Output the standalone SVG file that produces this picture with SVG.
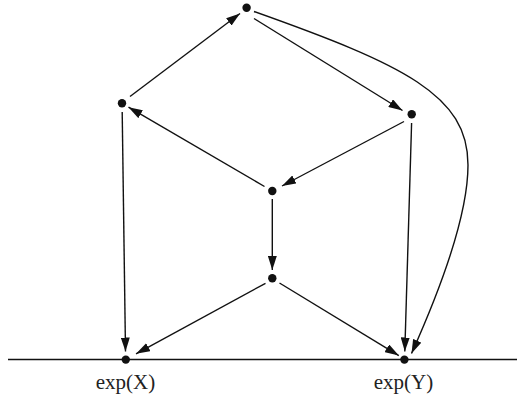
<svg xmlns="http://www.w3.org/2000/svg" width="517" height="397" viewBox="0 0 517 397">
<defs>
<marker id="arr" markerUnits="userSpaceOnUse" markerWidth="15" markerHeight="9" refX="14" refY="4.5" orient="auto">
<path d="M0,0 L14,4.5 L0,9 z" fill="#111"/>
</marker>
</defs>
<style>
.e{fill:none;stroke:#111;stroke-width:1.4;marker-end:url(#arr)}
.n{fill:#111}
.t{font-family:"Liberation Serif","Times New Roman",serif;font-size:21px;fill:#222;text-anchor:middle}
</style>
<rect width="517" height="397" fill="#fff"/>
<line x1="8" y1="359.5" x2="517" y2="359.5" stroke="#111" stroke-width="1.4"/>
<g id="connectors">
<line class="e" x1="130" y1="96.5" x2="240" y2="13.5"/>
<line class="e" x1="254" y1="18.5" x2="402.5" y2="110.5"/>
<line class="e" x1="264.5" y1="186.5" x2="128.5" y2="107.2"/>
<line class="e" x1="404" y1="121.5" x2="282" y2="186"/>
<line class="e" x1="272.3" y1="199" x2="272.3" y2="270"/>
<line class="e" x1="122.2" y1="112" x2="125.5" y2="351.5"/>
<line class="e" x1="265.5" y1="283.3" x2="136" y2="353.8"/>
<line class="e" x1="279.5" y1="283" x2="398.8" y2="355.6"/>
<line class="e" x1="411.6" y1="123" x2="404.8" y2="351.5"/>
<path class="e" d="M254,11.5 C404,64.8 468,95 468,165 C468,215 440,290 411.5,353.5"/>
</g>
<g id="nT"><circle class="n" cx="246.6" cy="7.8" r="4.2"/></g>
<g id="nL"><circle class="n" cx="122" cy="103.3" r="4.2"/></g>
<g id="nR"><circle class="n" cx="411.7" cy="114.2" r="4.2"/></g>
<g id="nC"><circle class="n" cx="272.3" cy="191" r="4.2"/></g>
<g id="nD"><circle class="n" cx="272.3" cy="278.3" r="4.2"/></g>
<g id="nX"><circle class="n" cx="125.8" cy="359.6" r="4.2"/><text class="t" x="125.5" y="389">exp(X)</text></g>
<g id="nY"><circle class="n" cx="404.4" cy="359.6" r="4.2"/><text class="t" x="403.5" y="389">exp(Y)</text></g>
</svg>
